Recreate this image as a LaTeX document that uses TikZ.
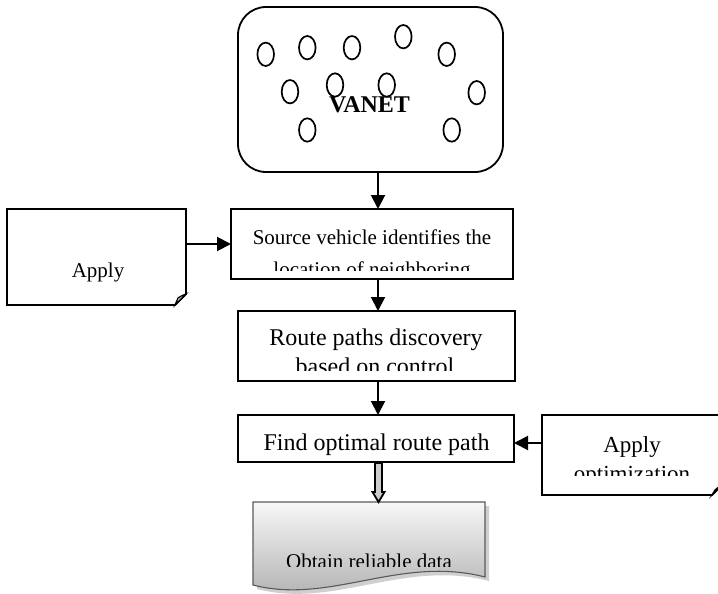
\documentclass[tikz,border=0pt]{standalone}
\usepackage{fontspec}
\setmainfont{Liberation Serif}
\usetikzlibrary{arrows.meta,calc}
\begin{document}
\begin{tikzpicture}[x=1pt,y=-1pt,
  box/.style={draw, line width=1.8pt, inner sep=0pt, outer sep=0pt},
  ghost/.style={inner sep=0pt, outer sep=0pt},
  arr/.style={line width=2pt, -{Triangle[length=14pt,width=14pt]}},
  lbl/.style={inner sep=0pt, anchor=base},
  veh/.style={line width=1.7pt},
  fold/.style={line width=1.8pt, line join=miter},
  curl/.style={line width=1.2pt, fill=gray!35}
]
\useasboundingbox (0,0) rectangle (718,594);
\clip (0,0) rectangle (718,594);

% ---------------- VANET ----------------
\node[box, rounded corners=28pt, minimum width=265pt, minimum height=165pt] (vanet) at (370.5,89.5) {};
\foreach \cx/\cy in {265.7/54.3, 307.3/47.7, 352/47.7, 403.3/36.7, 446.7/54.3,
                     290/91.7, 335/85, 386.7/85, 476.7/92.7, 307.3/130, 451.7/130}
  \draw[veh] (\cx,\cy) ellipse [x radius=8.3pt, y radius=11.7pt];
\node[lbl, font=\bfseries\fontsize{24}{28}\selectfont] (vt) at (369.5,113) {VANET};

% vertical axis for the arrows
\coordinate (ax) at (378,0);

% ---------------- Box 1 ----------------
\node[box, minimum width=282pt, minimum height=70pt] (box1) at (372,244) {};
\begin{scope}
  \clip (233,211) rectangle (511,270);
  \node[lbl, font=\fontsize{21}{25}\selectfont] (b1a) at (372,244) {Source vehicle identifies the};
  \node[lbl, font=\fontsize{21}{25}\selectfont] (b1b) at (372,276) {location of neighboring};
\end{scope}

% ---------------- Apply (left) ----------------
\node[ghost, minimum width=179pt, minimum height=96pt] (apply1) at (96.5,257) {};
\draw[fold] (apply1.north west) -- (apply1.north east) -- ([yshift=11pt]apply1.south east)
  -- ([xshift=-11pt]apply1.south east) -- (apply1.south west) -- cycle;
\draw[curl] ([yshift=11pt]apply1.south east) .. controls ([xshift=-5pt,yshift=9pt]apply1.south east) .. ([xshift=-8pt,yshift=7pt]apply1.south east)
  -- ([xshift=-11pt]apply1.south east) -- cycle;
\node[lbl, font=\fontsize{21}{25}\selectfont] (a1t) at (98,277) {Apply};

% ---------------- Box 2 ----------------
\node[box, minimum width=277pt, minimum height=70pt] (box2) at (376.5,346) {};
\begin{scope}
  \clip (240,313) rectangle (513,370);
  \node[lbl, font=\fontsize{24}{28}\selectfont] (b2a) at (376,345) {Route paths discovery};
  \node[lbl, font=\fontsize{24}{28}\selectfont] (b2b) at (375,374) {based on control};
\end{scope}

% ---------------- Box 3 ----------------
\node[box, minimum width=276pt, minimum height=47pt] (box3) at (376,438.5) {};
\node[lbl, font=\fontsize{24}{28}\selectfont] (b3a) at (376.5,450) {Find optimal route path};

% ---------------- Apply optimization (right) ----------------
\node[ghost, minimum width=179pt, minimum height=80pt] (apply2) at (631.5,455) {};
\draw[fold] (apply2.north west) -- (apply2.north east) -- ([yshift=9pt]apply2.south east)
  -- ([xshift=-9pt]apply2.south east) -- (apply2.south west) -- cycle;
\draw[curl] ([yshift=9pt]apply2.south east) .. controls ([xshift=-4pt,yshift=7pt]apply2.south east) .. ([xshift=-6pt,yshift=5pt]apply2.south east)
  -- ([xshift=-9pt]apply2.south east) -- cycle;
\begin{scope}
  \clip (544,417) rectangle (716,475);
  \node[lbl, font=\fontsize{23}{27}\selectfont] (a2a) at (632,452) {Apply};
  \node[lbl, font=\fontsize{23}{27}\selectfont] (a2b) at (632,481) {optimization};
\end{scope}

% ---------------- Document: Obtain reliable data ----------------
\node[ghost, minimum width=232pt, minimum height=84pt] (doc) at (369,544) {};
\fill[gray!50, opacity=0.75] (257,506) -- (489,506) -- (489,581)
  .. controls (404,559) and (334,609) .. (257,589) -- cycle;
\shade[top color=gray!6, bottom color=gray!65, draw=gray!70!black, line width=1.1pt]
  (doc.north west) -- (doc.north east) -- (485,577)
  .. controls (400,555) and (330,605) .. (253,585) -- cycle;
\begin{scope}
  \clip (255,504) rectangle (483,566);
  \node[lbl, font=\fontsize{21}{25}\selectfont] (dt) at (369,568) {Obtain reliable data};
\end{scope}

% ---------------- Connectors ----------------
\draw[arr] (vanet.south -| ax) -- (box1.north -| ax);
\draw[arr] (box1.west -| apply1.east) -- (box1.west);
\draw[arr] (box1.south -| ax) -- (box2.north -| ax);
\draw[arr] (box2.south -| ax) -- (box3.north -| ax);
\coordinate (ar3) at (0,443);
\draw[arr] (apply2.west |- ar3) -- (box3.east |- ar3);

% block arrow box3 -> doc
\coordinate (bx) at (378.5,0);
\filldraw[fill=gray!40, draw=black, line width=1.8pt, line join=miter]
  ($(box3.south -| bx)+(-3.5,1)$) -- ($(box3.south -| bx)+(3.5,1)$)
  -- ($(doc.north -| bx)+(3.5,-10)$) -- ($(doc.north -| bx)+(6,-10)$)
  -- (doc.north -| bx)
  -- ($(doc.north -| bx)+(-6,-10)$) -- ($(doc.north -| bx)+(-3.5,-10)$) -- cycle;
\end{tikzpicture}
\end{document}
